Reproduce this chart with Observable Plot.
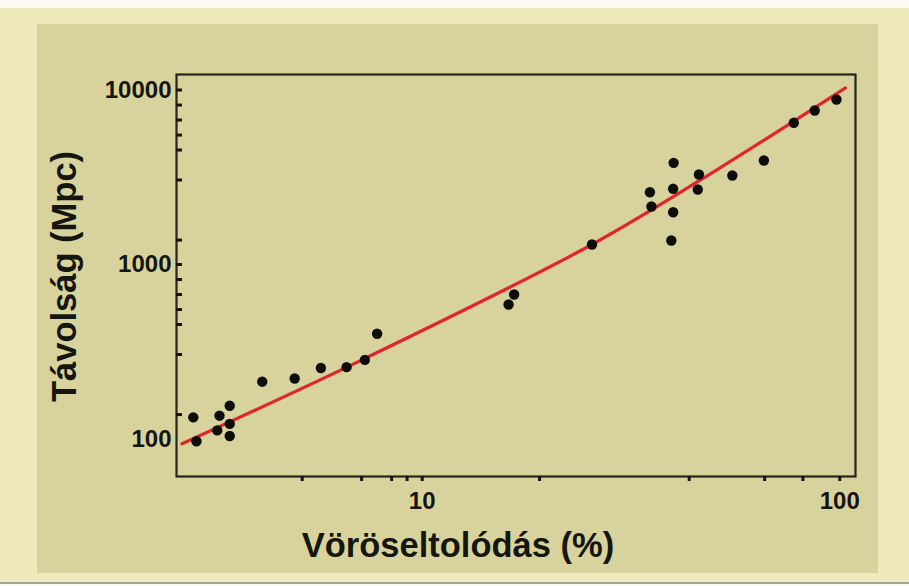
<!DOCTYPE html>
<html>
<head>
<meta charset="utf-8">
<script src="https://cdn.jsdelivr.net/npm/d3@7"></script>
<script src="https://cdn.jsdelivr.net/npm/@observablehq/plot@0.6"></script>
<style>
  html, body { margin: 0; padding: 0; }
  body { width: 909px; height: 586px; position: relative; overflow: hidden; background: #fafaf2; }
  #outer { position: absolute; left: 0; top: 8px; width: 909px; height: 574px; background: #eeeabc; }
  #inner { position: absolute; left: 37px; top: 24px; width: 841px; height: 549px; background: #d8d39d; }
  #rule { position: absolute; left: 0; top: 582px; width: 909px; height: 2px; background: #a3a399; }
  #chart { position: absolute; left: 0; top: 0; }
</style>
</head>
<body>
<div id="outer"></div>
<div id="inner"></div>
<div id="rule"></div>
<div id="chart"></div>
<script>
// Observed galaxies: redshift (%) and distance (Mpc)
const redshift = [2.83, 2.88, 3.23, 3.27, 3.46, 3.46, 3.46, 4.14, 4.95, 5.72, 6.59, 7.29, 7.80,
                  16.1, 16.6, 25.5,
                  35.1, 35.4, 40.0, 39.9, 39.9, 39.5, 46.0, 45.7, 55.3, 65.8, 77.6, 87.1, 98.2];
const distance = [133, 97, 112, 136, 155, 122, 104, 213, 222, 255, 258, 284, 401,
                  590, 673, 1302,
                  2596, 2150, 3825, 2715, 1994, 1372, 3280, 2690, 3236, 3945, 6487, 7628, 8823];

// Fitted curve (red line)
const fitRedshift = [2.66, 7.28, 25.5, 51.8, 103.2];
const fitDistance = [93.9, 289, 1302, 3596, 10294];

// Axis ticks
const xLabelTicks = [10, 100];
const xMinorTicks = [5.16, 7.16, 8.45, 9.2, 10, 19.1, 43.6, 66.1, 81.6, 100];
const yLabelTicks = [100, 1000, 10000];
const yMinorTicks = [138, 305, 453, 552, 673, 820, 1000, 1380, 3050, 4530, 5520, 6730, 8200, 10000];

// Titles
const xTitle = "Vöröseltolódás (%)";
const yTitle = "Távolság (Mpc)";

const points = redshift.map((z, i) => ({z, d: distance[i]}));
const fit = fitRedshift.map((z, i) => ({z, d: fitDistance[i]}));

const ink = "#161610";
const font = "'Liberation Sans', Arial, sans-serif";

const chart = Plot.plot({
  width: 909,
  height: 586,
  marginLeft: 176,
  marginRight: 54,
  marginTop: 74,
  marginBottom: 110,
  style: {background: "transparent", fontFamily: font, fontWeight: "bold", color: ink},
  x: {type: "log", domain: [2.58, 109.05]},
  y: {type: "log", domain: [60.95, 12274]},
  marks: [
    Plot.line(fit, {x: "z", y: "d", stroke: "#e3242b", strokeWidth: 3.2, curve: "catmull-rom"}),
    Plot.dot(points, {x: "z", y: "d", r: 5.2, fill: "#0d0d0a", stroke: "none"}),
    Plot.frame({stroke: "#26261a", strokeWidth: 2.2}),
    Plot.axisX(xMinorTicks, {tickSize: 5, fill: "none", stroke: ink, strokeWidth: 3, label: null}),
    Plot.axisX(xLabelTicks, {tickSize: 0, tickPadding: 15, tickFormat: d => String(d), fontSize: 24, fontWeight: "bold", fill: ink, label: null}),
    Plot.axisY(yMinorTicks, {tickSize: -6, fill: "none", stroke: ink, strokeWidth: 3, label: null}),
    Plot.axisY(yLabelTicks, {tickSize: 0, tickPadding: 5, tickFormat: d => String(d), fontSize: 24, fontWeight: "bold", fill: ink, label: null}),
    Plot.text([xTitle], {text: d => d, frameAnchor: "bottom", textAnchor: "middle", lineAnchor: "middle", dx: -58, dy: 69.5, fontSize: 34.5, fontWeight: "bold", fill: ink}),
    Plot.text([yTitle], {text: d => d, frameAnchor: "left", textAnchor: "middle", lineAnchor: "middle", rotate: -90, dx: -112, dy: 1, fontSize: 34.5, fontWeight: "bold", fill: ink})
  ]
});
document.getElementById("chart").appendChild(chart);
</script>
</body>
</html>
